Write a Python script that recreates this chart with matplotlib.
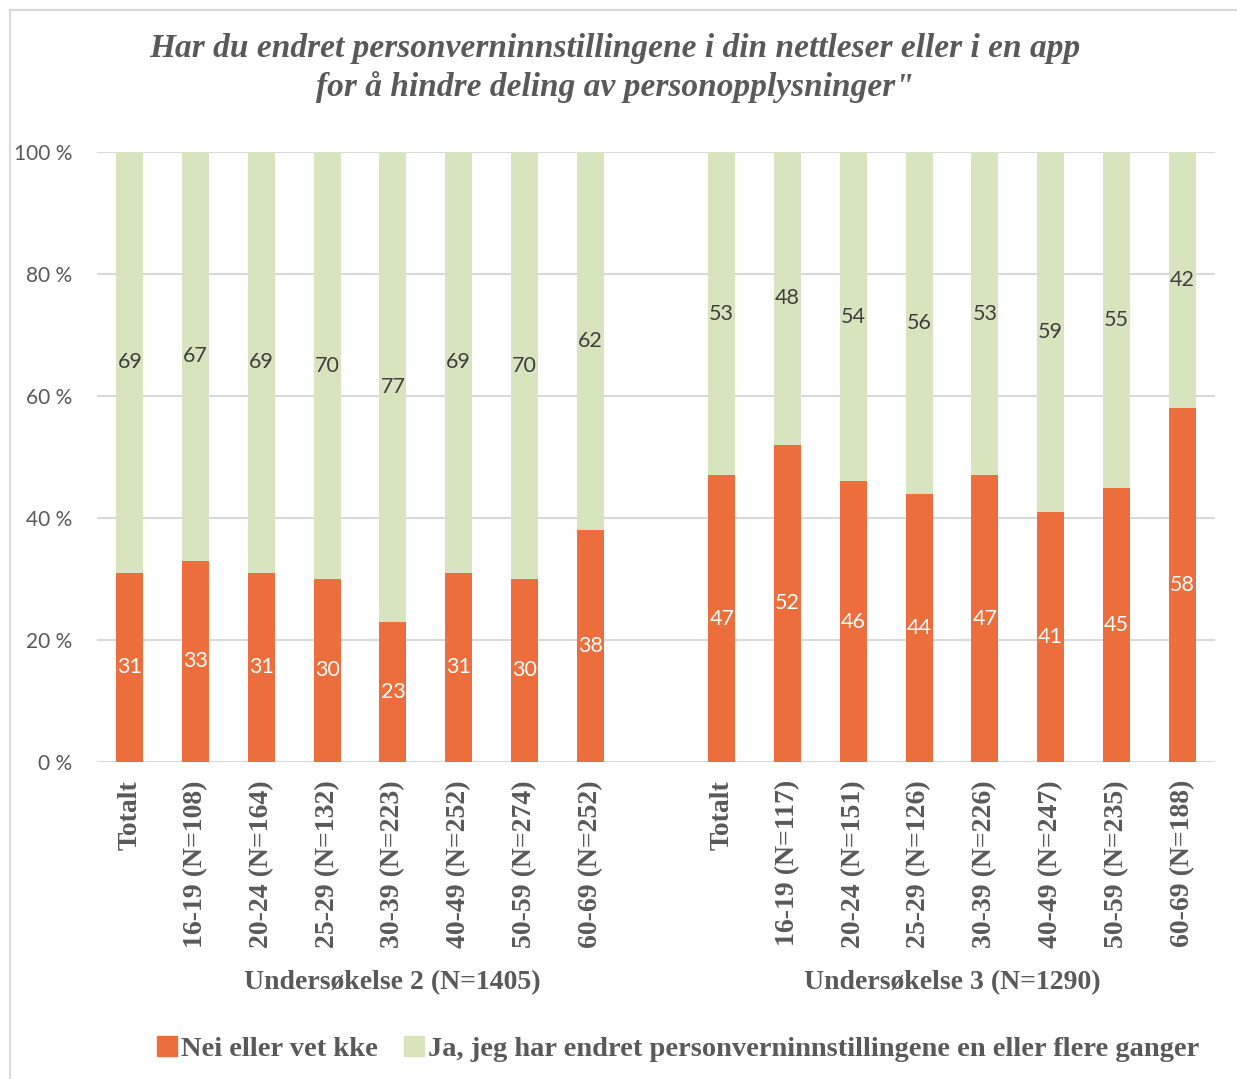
import matplotlib
matplotlib.use("Agg")
import matplotlib.pyplot as plt
import matplotlib.patches as mpatches

# Categories (one blank slot between the two surveys)
LABELS_U2 = ["Totalt", "16-19 (N=108)", "20-24 (N=164)", "25-29 (N=132)",
             "30-39 (N=223)", "40-49 (N=252)", "50-59 (N=274)", "60-69 (N=252)"]
LABELS_U3 = ["Totalt", "16-19 (N=117)", "20-24 (N=151)", "25-29 (N=126)",
             "30-39 (N=226)", "40-49 (N=247)", "50-59 (N=235)", "60-69 (N=188)"]

NEI_U2 = [31, 33, 31, 30, 23, 31, 30, 38]
JA_U2  = [69, 67, 69, 70, 77, 69, 70, 62]
NEI_U3 = [47, 52, 46, 44, 47, 41, 45, 58]
JA_U3  = [53, 48, 54, 56, 53, 59, 55, 42]

GROUPS = ["Undersøkelse 2 (N=1405)", "Undersøkelse 3 (N=1290)"]
SERIES = ["Nei eller vet kke",
          "Ja, jeg har endret personverninnstillingene en eller flere ganger"]
TITLE = ("Har du endret personverninnstillingene i din nettleser eller i en app\n"
         "for å hindre deling av personopplysninger\"")

ORANGE = "#EC6E3C"
GREEN  = "#D7E4BD"
GRAY   = "#595959"
GRID   = "#D9D9D9"
SERIF  = "Liberation Serif"
SANS   = "Lato"

fig = plt.figure(figsize=(12.37, 10.79), dpi=100)
ax = fig.add_axes([97 / 1237, 1 - 762 / 1079, (1215 - 97) / 1237, (762 - 152) / 1079])

x2 = list(range(len(LABELS_U2)))
x3 = [len(LABELS_U2) + 1 + i for i in range(len(LABELS_U3))]
xs = x2 + x3
nei = NEI_U2 + NEI_U3
ja = JA_U2 + JA_U3
labels = LABELS_U2 + LABELS_U3

w = 0.41
ax.bar(xs, nei, width=w, color=ORANGE, zorder=3)
ax.bar(xs, ja, width=w, bottom=nei, color=GREEN, zorder=3)

for x, n, j in zip(xs, nei, ja):
    ax.text(x, n / 2, f"{n}", ha="center", va="center", color="white",
            fontsize=15.5, family=SANS, zorder=4)
    ax.text(x, n + j / 2, f"{j}", ha="center", va="center", color="#404040",
            fontsize=15.5, family=SANS, zorder=4)

ax.set_xlim(-0.5, len(xs) + 0.5)
ax.set_ylim(0, 100)
ax.set_yticks(range(0, 101, 20))
ax.set_yticklabels([f"{v} %" for v in range(0, 101, 20)], family=SANS,
                   fontsize=15, color=GRAY)
ax.set_xticks(xs)
ax.set_xticklabels(labels, rotation=90, family=SERIF, fontweight="bold",
                   fontsize=20, color=GRAY, va="top", ha="center")
ax.tick_params(axis="both", length=0)
ax.tick_params(axis="x", pad=13)
ax.tick_params(axis="y", pad=18)
ax.grid(axis="y", color=GRID, linewidth=1.5, zorder=0)
for s in ax.spines.values():
    s.set_visible(False)

# group labels
fig.text(392 / 1237, 1 - 983 / 1079, GROUPS[0], ha="center", va="center",
         family=SERIF, fontweight="bold", fontsize=20, color=GRAY)
fig.text(952 / 1237, 1 - 983 / 1079, GROUPS[1], ha="center", va="center",
         family=SERIF, fontweight="bold", fontsize=20, color=GRAY)

fig.text(615 / 1237, 1 - 68 / 1079, TITLE, ha="center", va="center",
         family=SERIF, fontweight="bold", style="italic", fontsize=24,
         color=GRAY, linespacing=1.3)

handles = [mpatches.Patch(color=ORANGE), mpatches.Patch(color=GREEN)]
leg = fig.legend(handles, SERIES, loc="center", bbox_to_anchor=(678 / 1237, 1 - 1049 / 1079),
                 ncol=2, frameon=False, handlelength=0.7, handleheight=0.7,
                 handletextpad=0.15, columnspacing=0.9,
                 prop={"family": SERIF, "weight": "bold", "size": 20.5})
for t in leg.get_texts():
    t.set_color(GRAY)

fig.patches.append(mpatches.Rectangle((10 / 1237, -0.01), 1.0, 1 - 10 / 1079 + 0.01,
                                      transform=fig.transFigure, fill=False,
                                      edgecolor=GRID, linewidth=1.5))

fig.savefig("out.png", dpi=100)
